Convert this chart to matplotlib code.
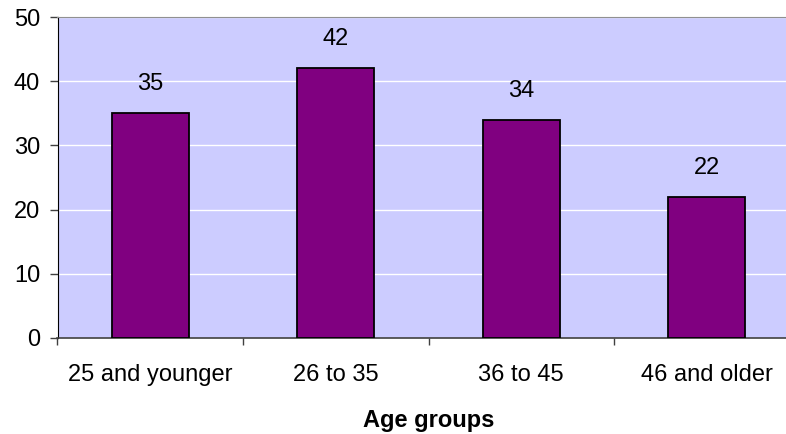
import matplotlib.pyplot as plt
from matplotlib.ticker import FixedLocator

plt.rcParams['font.family'] = ['Liberation Sans', 'DejaVu Sans']

# age group counts
groups = ['25 and younger', '26 to 35', '36 to 45', '46 and older']
counts = [35, 42, 34, 22]

fig = plt.figure(figsize=(7.86, 4.34), dpi=100)
# plot area runs a little past the right edge of the figure
ax = fig.add_axes([57.5 / 786, 1 - 338 / 434, 742 / 786, 321 / 434])
ax.set_facecolor('#CCCCFF')

x = list(range(len(groups)))
bars = ax.bar(x, counts, width=0.415, color='#800080', edgecolor='black', linewidth=1.3, zorder=3)
for b, v in zip(bars, counts):
    ax.annotate(str(v), (b.get_x() + b.get_width() / 2, v), xytext=(0, 16.5),
                textcoords='offset points', ha='center', va='baseline', fontsize=17)

ax.set_xlim(-0.5, 3.5)
ax.set_ylim(0, 50)
ax.set_yticks(range(0, 51, 10))
ax.yaxis.grid(True, color='white', linewidth=1, zorder=0)
ax.set_axisbelow(True)

ax.set_xticks(x)
ax.set_xticklabels(groups)
ax.xaxis.set_minor_locator(FixedLocator([-0.5, 0.5, 1.5, 2.5, 3.5]))
ax.tick_params(axis='x', which='major', length=0, pad=19, labelsize=17)
ax.tick_params(axis='x', which='minor', length=5, width=1, color='#404040')
ax.tick_params(axis='y', length=5.5, width=1, color='#404040', labelsize=17, pad=7)

ax.spines['top'].set_color('#909090')
ax.spines['left'].set_color('black')
ax.spines['bottom'].set_color('#404040')
ax.spines['bottom'].set_linewidth(1.2)
ax.spines['right'].set_visible(False)

ax.set_xlabel('Age groups', fontsize=17, fontweight='bold', labelpad=16)

fig.savefig('out.png', dpi=100)
